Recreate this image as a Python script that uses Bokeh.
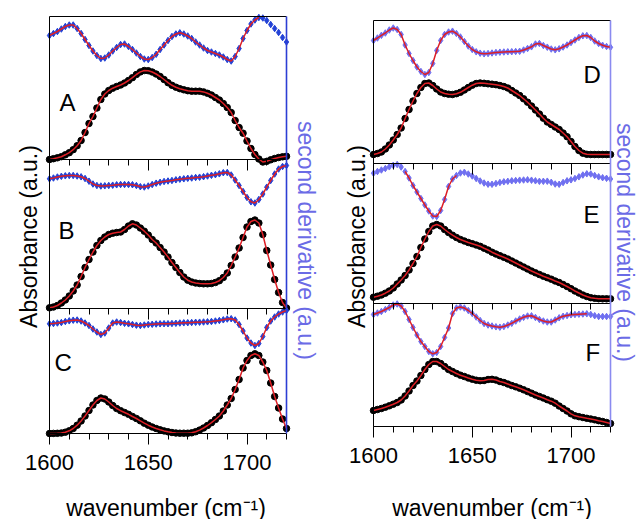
from math import pi
from bokeh.plotting import figure
from bokeh.models import Range1d, LinearAxis, FixedTicker, Label, ColumnDataSource
from bokeh.embed import file_html
from bokeh.resources import INLINE

W, H = 636, 519
FONT = "Liberation Sans"
RED = "#dd1f26"
LABEL_BLUE = "#6b6be6"

# ---------------- data ----------------
wavenumber = [1600, 1602, 1604, 1606, 1608, 1610, 1612, 1614, 1616, 1618,
              1620, 1622, 1624, 1626, 1628, 1630, 1632, 1634, 1636, 1638,
              1640, 1642, 1644, 1646, 1648, 1650, 1652, 1654, 1656, 1658,
              1660, 1662, 1664, 1666, 1668, 1670, 1672, 1674, 1676, 1678,
              1680, 1682, 1684, 1686, 1688, 1690, 1692, 1694, 1696, 1698,
              1700, 1702, 1704, 1706, 1708, 1710, 1712, 1714, 1716, 1718, 1720]

abs_A = [0, 0.8, 1.7, 2.8, 4.7, 6.8, 9.8, 13.8, 19, 27, 36, 43, 51.5, 60, 65.5, 69, 71.3, 73, 74.5, 76.5,
         79, 81.8, 85, 87.6, 89, 88.8, 87.5, 85.5, 83, 80, 76.8, 74.2, 72.3, 70.8, 69.7, 68.8, 68.3, 68.3,
         68.3, 67.6, 66.2, 64.5, 62, 59.5, 56, 52, 47, 39, 32, 26.3, 18.5, 11, 5, 0.5, -2.5, -1.8, -0.3,
         1, 2, 2.7, 3.2]
d2_A = [0, 2, 4, 6.5, 9, 10.5, 10.5, 7, 2, -4, -10, -15.5, -20, -23, -22.5, -19.5, -15.5, -12, -9, -8.5,
        -11, -14, -17.5, -21, -23.5, -24, -22, -18.8, -14, -9.5, -5, -1, 1.5, 2.7, 1.5, -0.5, -3, -6.5,
        -9.5, -12.5, -15, -16.5, -18, -19.5, -21.5, -24, -25.5, -21, -13, -3, 5, 11.5, 15.5, 18, 17.5,
        15, 11, 7, 3, -2, -6.5]

abs_B = [0.7, 1.5, 3, 5.5, 8.5, 12.5, 17.5, 23.5, 32, 41, 49, 56.5, 63, 68, 71.5, 74, 75.3, 76, 76.5, 79,
         82.5, 84.7, 83.5, 80.5, 77.3, 73.5, 69, 65.5, 61, 56.5, 51.5, 46, 41, 36, 31.5, 28.3, 26.5, 25.5,
         25, 24.7, 24.7, 25, 26, 27.8, 31, 35.5, 43, 51.5, 60.5, 71, 81.5, 87, 88.5, 85.5, 74, 58, 43.5,
         29, 16, 6, 0.5]
d2_B = [-0.3, 0.5, 1.5, 2.2, 2.7, 3, 3, 2.5, 1.7, 0, -2.7, -5.5, -7, -7.5, -7.3, -7, -6.7, -6.3, -6, -6,
        -6, -6.2, -7, -8.2, -8.5, -7.5, -6, -4.7, -3.8, -3, -2.5, -2, -1.3, -0.7, -0.3, 0.2, 0.5, 1, 1.3,
        1.8, 2.5, 3.2, 3.8, 4.7, 5.8, 6, 3.5, -1.5, -7, -13, -19, -23.3, -24.5, -21, -15.5, -8.7, -2, 4.5,
        9.5, 12, 13]

abs_C = [0, 0.1, 0.2, 0.5, 1.3, 2.7, 5, 8.3, 12.5, 17.5, 23, 28.5, 33, 35.5, 34.5, 31.5, 28, 25, 22.8, 21,
         19.2, 17, 15, 12.7, 10.3, 8.3, 6.5, 5, 3.7, 2.6, 1.7, 1, 0.5, 0.3, 0.3, 0.3, 0.7, 1.8, 3.4, 5.5,
         8, 10.8, 14, 17.5, 22.5, 28.5, 35, 44, 54, 65.5, 73, 78, 79.7, 78, 71.5, 63, 50.5, 37, 25.5, 14.5, 5]
d2_C = [-0.3, 0, 0.5, 1, 2, 2.7, 3.3, 3.5, 2.5, 0.5, -2, -5.5, -8.5, -11, -9.5, -4.5, 0.5, 1.5, 1, 0.2,
        -0.3, -1, -1.7, -2, -1.5, -1, -0.8, -0.5, -0.3, -0.2, -0.2, 0, 0.2, 0.5, 0.7, 0.8, 1, 1.2, 1.3, 1.5,
        1.7, 2, 2.5, 3, 3.7, 4.5, 4.8, 3.5, -1, -7.5, -14.5, -19.5, -22, -20, -13, -4, 2.5, 6.5, 9.5, 11.5, 13]

abs_D = [9, 10, 11.5, 14.5, 18.5, 23.5, 29, 35.5, 45, 54, 62.5, 70, 76, 80, 80.5, 78, 74.5, 71.5, 70, 69.3,
         69, 69.8, 71.2, 73.5, 76, 78.3, 80, 80.5, 80.2, 79.7, 79.3, 78.8, 78, 77, 75.5, 73, 70.5, 68, 64.7,
         61.3, 57.5, 53.5, 49.5, 45.3, 41.5, 39, 36.5, 34, 30.5, 26.8, 22, 17, 13, 10.3, 9.2, 9, 9, 9, 9, 9, 9]
d2_D = [0, 2.5, 5.2, 7.5, 10.5, 12.5, 11, 6, -4.5, -13, -20, -26.5, -31, -34, -32, -23, -10, 0, 6, 8.5,
        9.3, 7, 3.5, -1, -5.5, -9, -11.3, -12.7, -13.3, -13, -12.5, -12, -11.7, -11.5, -11.3, -11.2, -11,
        -10.8, -9.5, -8, -6.3, -3.5, -3, -5, -6.7, -8.5, -9.3, -8.3, -6.5, -4.5, -2, 0.5, 3, 4.7, 5, 3,
        -0.5, -3, -4.8, -6, -6.8]

abs_E = [6.3, 7.3, 8.5, 10.3, 12.5, 15.5, 19.5, 23.5, 28, 33.5, 40, 47, 56, 64.5, 72, 77.5, 79, 77.5, 74, 71,
         68.3, 66, 64, 62.5, 61, 59.8, 58.5, 57.2, 55.3, 53.5, 51.3, 49.5, 47.8, 46.2, 44.5, 42.5, 40.5,
         38.5, 36.5, 34.5, 32.5, 30.7, 29, 27.3, 25.8, 24.3, 22.5, 21, 19, 17, 14.8, 12.5, 10.5, 8.5, 7,
         5.8, 5.2, 4.8, 4.7, 4.7, 4.7]
d2_E = [7.3, 9, 10.5, 12, 13.7, 15.2, 16, 13.5, 9, 2.5, -5, -11.5, -18, -24.5, -30.5, -35.5, -36, -30, -19, -6,
        1.5, 5, 7.5, 8.2, 6.5, 4.5, 2, -0.5, -2.5, -3.7, -3.8, -3, -2, -1.3, -0.8, -0.3, 0, 0.3, 0.5, 0.7,
        0.3, -0.3, -0.8, -0.8, -0.7, -1.8, -3.5, -3.8, -2, -0.3, 0.7, 2, 3.7, 5.5, 6.7, 6.5, 5, 3.7, 2.8,
        2.2, 1.5]

abs_F = [16, 17, 18, 19.3, 20.7, 22.3, 24, 26.5, 30.5, 35.5, 41, 45.5, 51, 57, 62, 65, 65, 63, 60, 57,
         55, 53, 51.3, 50, 48.5, 47.3, 46.3, 45.8, 46, 47, 47.2, 46.5, 45, 44, 42.5, 41, 39.7, 38.3, 36.7,
         35, 33.3, 31.5, 30, 28.5, 26.8, 25.3, 23.3, 20.5, 18, 15.5, 12.7, 10.7, 9.8, 9, 8.2, 7.5, 6.7, 5.8,
         5, 4, 3]
d2_F = [0, 1.5, 3, 5, 7, 9.5, 10.5, 8.5, 3, -5, -13, -20.5, -27, -32, -37, -39.3, -38, -32, -23, -13.5,
        1, 6.5, 7.5, 6.5, 4, 1, -2.5, -6, -9, -10.5, -11.5, -12.3, -12.7, -12, -10.5, -8.8, -6.5, -4.5,
        -2.8, -1.5, -1.3, -3, -5, -6.5, -7.5, -7.5, -5.5, -3.3, -1.8, -1, -0.3, 0, 0.3, 0.5, 0.7, 0, -1.2,
        -2, -2, -2, -2]

x_start, x_end = 1600, 1720
major_ticks = [1600, 1650, 1700]
minor_ticks = [1600, 1610, 1620, 1630, 1640, 1650, 1660, 1670, 1680, 1690, 1700, 1710, 1720]
tick_labels = ["1600", "1650", "1700"]

# ---------------- layout (page pixels; text anchors are glyph-box centres) ----------------
columns = [
    dict(name="xL", frame=(49, 286, 16, 433), dcol="#2342d6", acol="#2c3ed4",
         ylab_x=28, d2lab_x=305, d2lab_y=240, xlab_x=165.5,
         panels=[
             dict(key="A", absorb=abs_A, deriv=d2_A, bottom=159, base=35, fit=(1600, 1706), letter=(59, 102)),
             dict(key="B", absorb=abs_B, deriv=d2_B, bottom=308, base=178, fit=(1600, 1720), letter=(58, 230)),
             dict(key="C", absorb=abs_C, deriv=d2_C, bottom=433, base=323, fit=(1600, 1720), letter=(54, 362)),
         ]),
    dict(name="xR", frame=(373, 610, 20, 426), dcol="#6f6ff0", acol="#8a8af0",
         ylab_x=356, d2lab_x=624, d2lab_y=242, xlab_x=491.5,
         panels=[
             dict(key="D", absorb=abs_D, deriv=d2_D, bottom=163, base=40, fit=(1600, 1720), letter=(583, 74)),
             dict(key="E", absorb=abs_E, deriv=d2_E, bottom=303, base=180, fit=(1616, 1642), letter=(583, 214)),
             dict(key="F", absorb=abs_F, deriv=d2_F, bottom=426, base=314, fit=(1600, 1708), letter=(585, 352)),
         ]),
]
XLAB_Y = 507

# one canvas; the default ranges are page pixels (y downwards)
p = figure(width=W, height=H, x_range=Range1d(0, W), y_range=Range1d(H, 0), min_border=0,
           x_axis_location=None, y_axis_location=None, toolbar_location=None, title=None,
           output_backend="svg", background_fill_color="white", border_fill_color="white",
           outline_line_color=None)
p.grid.visible = False


def bare_axis(**kw):
    base = dict(ticker=FixedTicker(ticks=[], minor_ticks=[]), major_tick_in=0, major_tick_out=0,
                minor_tick_in=0, minor_tick_out=0, major_label_standoff=0,
                major_tick_line_color=None, minor_tick_line_color=None)
    base.update(kw)
    return LinearAxis(**base)


for col in columns:
    l, r, t, b = col["frame"]
    xn = col["name"]
    k = (r - l) / (x_end - x_start)          # pixels per wavenumber
    p.extra_x_ranges[xn] = Range1d(x_start - l / k, x_start + (W - l) / k)

    for i, pn in enumerate(col["panels"]):
        key = pn["key"]
        # absorbance: 0 at the panel's lower edge; second derivative: 0 at its own baseline
        p.extra_y_ranges["a_" + key] = Range1d(pn["bottom"] - H, pn["bottom"])
        p.extra_y_ranges["d_" + key] = Range1d(pn["base"] - H, pn["base"])

        src = ColumnDataSource(dict(x=wavenumber, a=pn["absorb"], d=pn["deriv"]))
        lo, hi = pn["fit"]
        idx = [j for j, w in enumerate(wavenumber) if lo <= w <= hi]
        fit_src = ColumnDataSource(dict(x=[wavenumber[j] for j in idx], d=[pn["deriv"][j] for j in idx]))

        p.scatter("x", "a", source=src, marker="circle", size=6.5, color="black",
                  x_range_name=xn, y_range_name="a_" + key)
        p.line("x", "a", source=src, color=RED, line_width=1.5, x_range_name=xn, y_range_name="a_" + key)
        p.scatter("x", "d", source=src, marker="diamond", size=6.5, color=col["dcol"],
                  x_range_name=xn, y_range_name="d_" + key)
        p.line("x", "d", source=fit_src, color=RED, line_width=1.5, x_range_name=xn, y_range_name="d_" + key)

        p.add_layout(Label(x=pn["letter"][0], y=pn["letter"][1], text=key, text_font=FONT,
                           text_font_size="24px", text_color="black",
                           text_align="left", text_baseline="alphabetic"))

        if i < len(col["panels"]) - 1:
            # separator between panels, ticks pointing down (minor every 10, long at 1600/1650/1700)
            for tick_list, tick_len in [(minor_ticks, 6), (major_ticks, 11)]:
                p.add_layout(bare_axis(x_range_name=xn, fixed_location=pn["bottom"],
                                       bounds=(x_start, x_end),
                                       ticker=FixedTicker(ticks=[], minor_ticks=tick_list),
                                       minor_tick_in=tick_len, minor_tick_line_color="black",
                                       axis_line_color="black", axis_line_width=1), "above")

    # frame: top, left (black), right (blue)
    p.add_layout(bare_axis(x_range_name=xn, fixed_location=t, bounds=(x_start, x_end),
                           axis_line_color="black", axis_line_width=1), "above")
    p.add_layout(bare_axis(x_range_name=xn, fixed_location=x_start, bounds=(t, b),
                           axis_line_color="black", axis_line_width=1), "left")
    p.add_layout(bare_axis(x_range_name=xn, fixed_location=x_end, bounds=(t, b),
                           axis_line_color=col["acol"], axis_line_width=1.6), "right")

    # bottom axis with tick labels
    p.add_layout(LinearAxis(x_range_name=xn, fixed_location=b, bounds=(x_start, x_end),
                            ticker=FixedTicker(ticks=major_ticks, minor_ticks=minor_ticks),
                            axis_line_color="black", major_tick_in=0, major_tick_out=11,
                            minor_tick_in=0, minor_tick_out=6,
                            major_tick_line_color="black", minor_tick_line_color="black",
                            major_label_text_font=FONT, major_label_text_font_size="22px",
                            major_label_text_color="black", major_label_standoff=10,
                            major_label_overrides={m: s for m, s in zip(major_ticks, tick_labels)}),
                 "below")

    # texts
    p.add_layout(Label(x=col["ylab_x"], y=236, text="Absorbance (a.u.)", angle=pi / 2,
                       text_font=FONT, text_font_size="23px", text_color="black",
                       text_align="center", text_baseline="alphabetic"))
    p.add_layout(Label(x=col["d2lab_x"], y=col["d2lab_y"], text="second derivative (a.u.)",
                       angle=-pi / 2, text_font=FONT, text_font_size="23px", text_color=LABEL_BLUE,
                       text_align="center", text_baseline="alphabetic"))
    p.add_layout(Label(x=col["xlab_x"], y=XLAB_Y, text="wavenumber (cm\u207b\u00b9)",
                       text_font=FONT, text_font_size="23px", text_color="black",
                       text_align="center", text_baseline="alphabetic"))

open("out.html", "w").write(file_html(p, INLINE, title="FTIR spectra"))
